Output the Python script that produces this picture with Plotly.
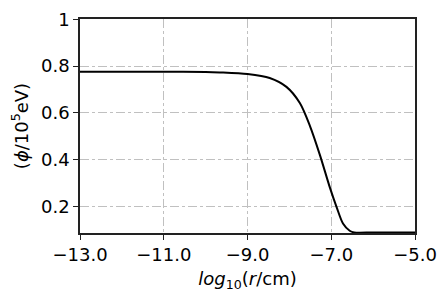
import plotly.graph_objects as go

log_r = [-13.0, -12.0, -11.0, -10.0, -9.66, -9.0, -8.47, -8.07, -7.75, -7.51,
         -7.27, -7.03, -6.87, -6.72, -6.56, -6.45, -6.0, -5.0]
phi = [0.776, 0.776, 0.776, 0.775, 0.773, 0.766, 0.749, 0.711, 0.642, 0.545,
       0.42, 0.28, 0.197, 0.128, 0.097, 0.09, 0.09, 0.09]

x_ticks = [-13, -11, -9, -7, -5]
x_labels = ["\u221213.0", "\u221211.0", "\u22129.0", "\u22127.0", "\u22125.0"]
y_ticks = [0.2, 0.4, 0.6, 0.8, 1.0]
y_labels = ["0.2", "0.4", "0.6", "0.8", "1"]

fig = go.Figure()
fig.add_trace(go.Scatter(x=log_r, y=phi, mode="lines",
                         line=dict(color="black", width=2, shape="spline", smoothing=0.8),
                         showlegend=False))

axis_common = dict(showline=True, linecolor="#222", linewidth=1.5, mirror=True,
                   ticks="outside", ticklen=5, tickcolor="#222", automargin=False,
                   ticklabeloverflow="allow",
                   showgrid=True, gridcolor="#c0c0c0", griddash="dashdot", gridwidth=1,
                   zeroline=False, tickfont=dict(size=18, color="black"))

fig.update_xaxes(range=[-13, -5], tickvals=x_ticks, ticktext=x_labels,
                 title=dict(text="<i>log</i><sub>10</sub>(<i>r</i>/cm)", font=dict(size=18, color="black"), standoff=8),
                 **axis_common)
fig.update_yaxes(range=[0.0875, 1.0008], tickvals=y_ticks, ticktext=y_labels,
                 title=dict(text="(<i>\u03d5</i>/10<sup>5</sup>eV)", font=dict(size=18, color="black"), standoff=10),
                 **axis_common)

fig.update_layout(width=438, height=289, margin=dict(l=72, r=31, t=11, b=64),
                  plot_bgcolor="white", paper_bgcolor="white",
                  font=dict(family="DejaVu Sans", color="black"))

fig.write_html("out.html")
